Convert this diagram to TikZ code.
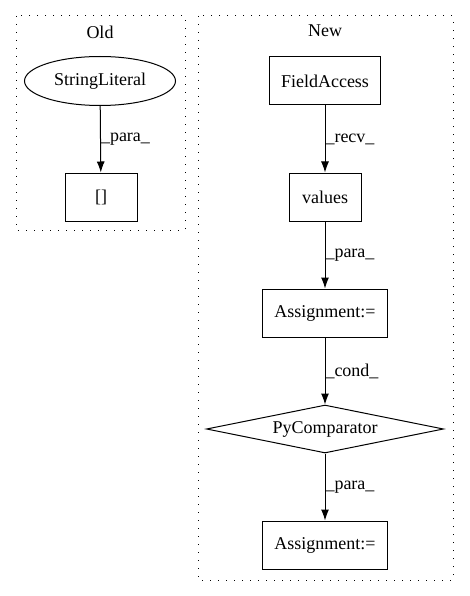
\documentclass[tikz,border=0pt]{standalone}
\usepackage{fontspec}
\setmainfont{Liberation Serif}
\usetikzlibrary{shapes.geometric, arrows.meta, positioning}

\begin{document}
\begin{tikzpicture}[x=1pt, y=-1pt, font=\fontsize{18pt}{21pt}\selectfont,
    cluster/.style={line width=1pt, dash pattern=on 1.2pt off 6.8pt},
    box/.style={draw, rectangle, line width=1pt, minimum height=48pt, inner sep=0pt},
    oval/.style={draw, ellipse, line width=1pt, inner sep=0pt},
    cmp/.style={draw, diamond, line width=1pt, inner sep=0pt, aspect=4.9},
    edge/.style={line width=1pt, -{Latex[length=11pt, width=8pt]}},
    lbl/.style={midway, anchor=west, inner sep=0pt}]
    \useasboundingbox (0,0) rectangle (469,596);

    % Draw the clusters
    \draw[cluster] (16,16) rectangle (185,230);
    \node (oldlbl) at (100,32) {Old};
    \draw[cluster] (198,16) rectangle (453,580);
    \node (newlbl) at (325,31) {New};

    % Old graph
    \node[oval, minimum width=151pt, minimum height=49pt] (strlit) at (100,81) {StringLiteral};
    \node[box, minimum width=72pt] (brackets) at (101,197) {[]};
    \draw[edge] (strlit) -- (brackets) node[lbl] {\_para\_};

    % New graph
    \node[box, minimum width=111pt] (field) at (325,81) {FieldAccess};
    \node[box, minimum width=72pt] (values) at (325,197) {values};
    \node[box, minimum width=125pt] (assignA) at (325,313) {Assignment:=};
    \node[cmp, minimum width=237pt, minimum height=48pt] (pycmp) at (325,429) {PyComparator};
    \node[box, minimum width=125pt] (assignB) at (325,545) {Assignment:=};

    \draw[edge] (field) -- (values) node[lbl] {\_recv\_};
    \draw[edge] (values) -- (assignA) node[lbl] {\_para\_};
    \draw[edge] (assignA) -- (pycmp) node[lbl] {\_cond\_};
    \draw[edge] (pycmp) -- (assignB) node[lbl] {\_para\_};
\end{tikzpicture}
\end{document}
